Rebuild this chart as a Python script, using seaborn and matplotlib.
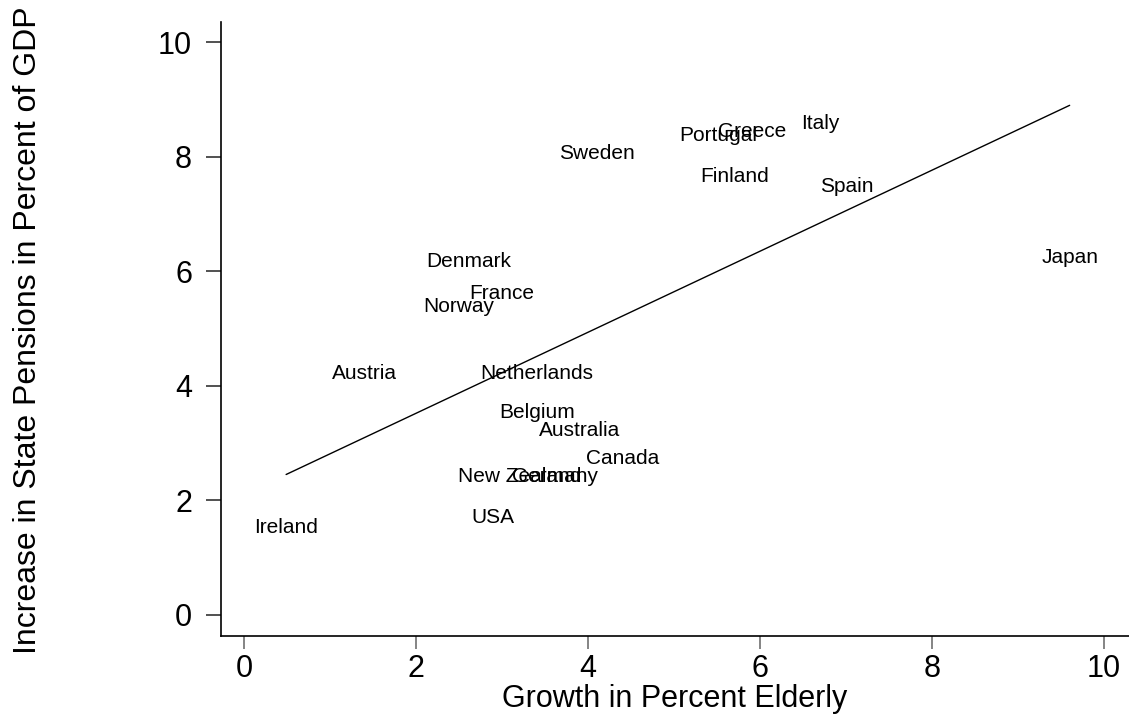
import numpy as np
import pandas as pd
import matplotlib
matplotlib.use("Agg")
import matplotlib.pyplot as plt
import seaborn as sns

countries = ["Ireland", "USA", "New Zealand", "Germany", "Canada", "Australia",
             "Belgium", "Austria", "Netherlands", "Norway", "France", "Denmark",
             "Japan", "Sweden", "Portugal", "Greece", "Italy", "Finland", "Spain"]
growth_elderly = [0.49, 2.89, 3.20, 3.62, 4.40, 3.90,
                  3.41, 1.40, 3.40, 2.50, 3.00, 2.61,
                  9.60, 4.10, 5.51, 5.91, 6.70, 5.71, 7.01]
pension_increase = [1.43, 1.61, 2.32, 2.32, 2.64, 3.13,
                    3.44, 4.12, 4.12, 5.29, 5.52, 6.08,
                    6.15, 7.97, 8.28, 8.35, 8.49, 7.56, 7.39]
x_ticks = [0, 2, 4, 6, 8, 10]
y_ticks = [0, 2, 4, 6, 8, 10]
x_label = "Growth in Percent Elderly"
y_label = "Increase in State Pensions in Percent of GDP"

df = pd.DataFrame({"country": countries, "growth": growth_elderly,
                   "pension": pension_increase})

sns.set_style("white")
plt.rcParams["font.family"] = ["Liberation Sans", "DejaVu Sans"]
plt.rcParams["text.color"] = "black"
plt.rcParams["xtick.color"] = "black"
plt.rcParams["ytick.color"] = "black"

W, H = 1129, 720
fig = plt.figure(figsize=(W / 100, H / 100), dpi=100)
ax_l, ax_r, ax_t, ax_b = 221, 1129, 22, 636
ax = fig.add_axes([ax_l / W, 1 - ax_b / H, (ax_r - ax_l) / W, (ax_b - ax_t) / H])

sns.regplot(data=df, x="growth", y="pension", scatter=False, ci=None,
            color="black", line_kws={"linewidth": 1.0}, ax=ax)

for _, r in df.iterrows():
    ax.text(r["growth"], r["pension"], r["country"], ha="center",
            va="baseline", fontsize=15, color="black")

ax.set_xlim(-0.267, 10.29)
ax.set_ylim(-0.367, 10.358)
ax.set_xticks(x_ticks)
ax.set_yticks(y_ticks)
ax.set_xticklabels([str(t) for t in x_ticks])
ax.set_yticklabels([str(t) for t in y_ticks])
ax.tick_params(axis="x", direction="out", length=9.5, width=1.2, color="#707070",
               labelcolor="black", labelsize=22, pad=3.5, bottom=True)
ax.tick_params(axis="y", direction="out", length=10.8, width=1.2, color="#333333",
               labelcolor="black", labelsize=22, pad=10, left=True)
for s in ["top", "right"]:
    ax.spines[s].set_visible(False)
for s in ["left", "bottom"]:
    ax.spines[s].set_color("black")
    ax.spines[s].set_linewidth(1.2)
ax.set_xlabel("")
ax.set_ylabel("")
fig.text((ax_l + ax_r) / 2 / W, 1 - 707 / H, x_label, ha="center",
         va="baseline", fontsize=22, color="black")
fig.text(28.5 / W, 1 - 330 / H, y_label, ha="center", va="center",
         rotation=90, fontsize=23, color="black")

fig.savefig("out.png", dpi=100, facecolor="white")
